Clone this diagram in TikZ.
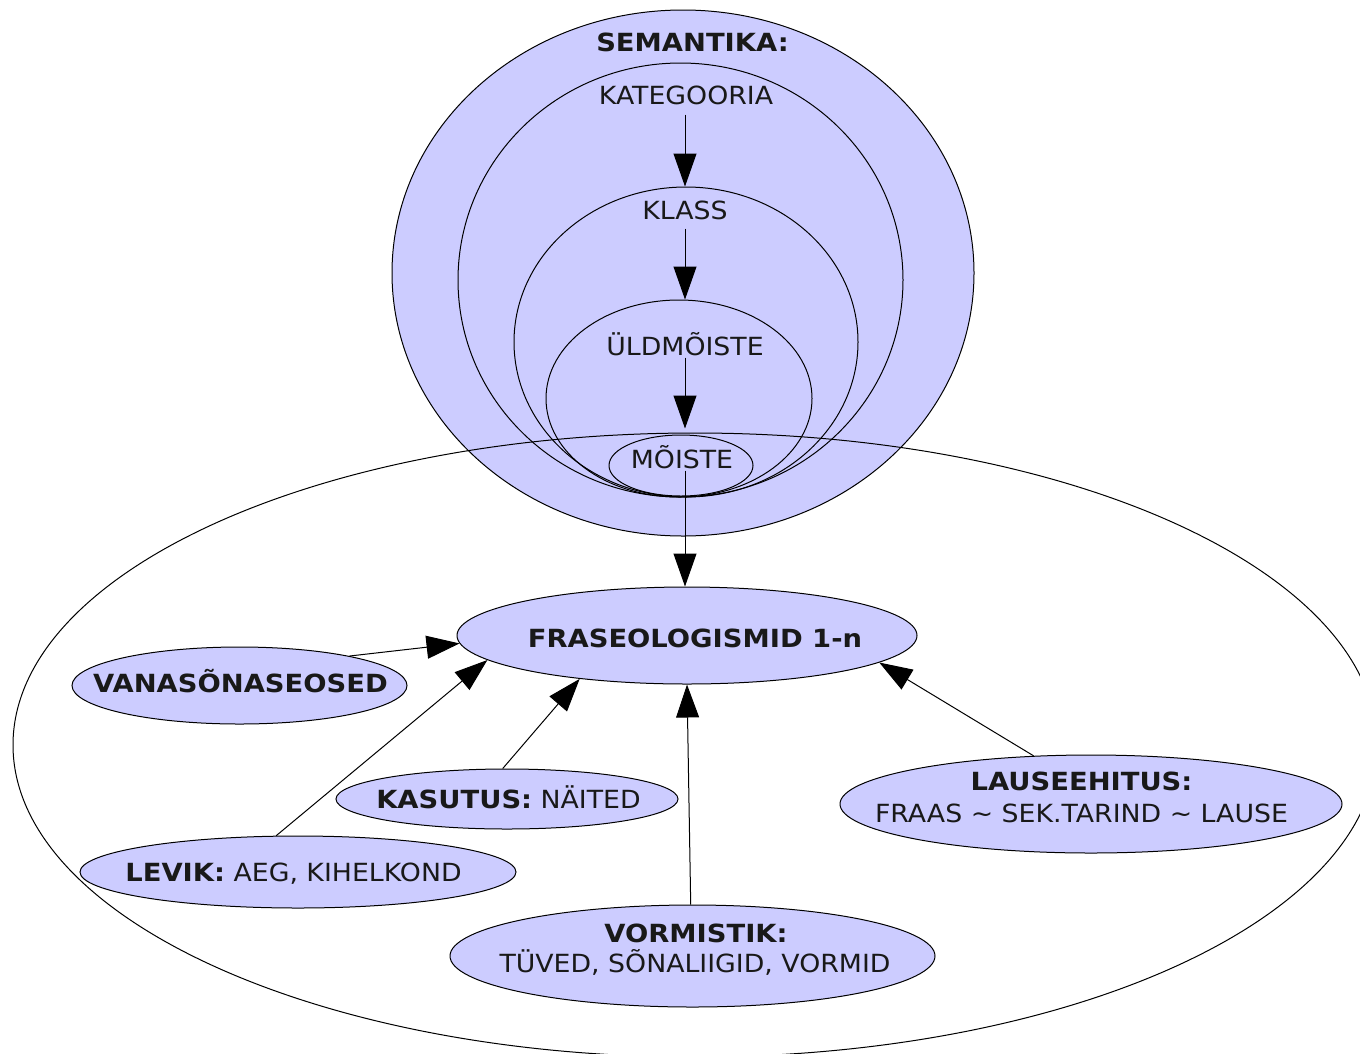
\documentclass[tikz,border=0pt]{standalone}
\usepackage{fontspec}
\setmainfont{DejaVu Sans}[FakeStretch=1.07, BoldFeatures={FakeStretch=1.095}]
\usetikzlibrary{shapes.geometric,arrows.meta}
\definecolor{lav}{RGB}{204,204,255}
\begin{document}
\begin{tikzpicture}[x=1pt,y=-1pt,
  bubble/.style={ellipse, draw=black, line width=1pt, fill=lav, inner sep=0pt},
  ring/.style={ellipse, draw=black, line width=1pt, inner sep=0pt},
  txt/.style={inner sep=0pt, anchor=base, text=black!90, font=\fontsize{25}{30}\selectfont},
  btxt/.style={txt, font=\fontsize{25}{30}\selectfont\bfseries},
  arr/.style={-{Triangle[length=33pt,width=23pt]}, line width=1pt}]
\useasboundingbox (0,0) rectangle (1360,1053);
\fill[white] (0,0) rectangle (1360,1053);
\clip (0,0) rectangle (1360,1053);

% semantics circles
\node[bubble, minimum width=582pt, minimum height=526pt] (sem) at (683,273) {};
\node[ring, minimum width=445pt, minimum height=434pt] (kat) at (680.5,280) {};
\node[ring, minimum width=344pt, minimum height=310pt] (klass) at (686,342) {};
\node[ring, minimum width=266pt, minimum height=197pt] (uld) at (679,398.5) {};
\node[ring, minimum width=144pt, minimum height=61pt] (moiste) at (681,465.5) {};

% outer ellipse
\node[ring, minimum width=1364pt, minimum height=624pt] (outer) at (695,745) {};

% labels in semantics
\node[btxt] (seml) at (692.5,51) {SEMANTIKA:};
\node[txt] (katl) at (686,104) {KATEGOORIA};
\node[txt] (klassl) at (685,219) {KLASS};
\node[txt] (uldl) at (685,355) {ÜLDMÕISTE};
\node[txt] (moistel) at (682,468) {MÕISTE};

% lower bubbles
\node[bubble, minimum width=460pt, minimum height=97pt] (fras) at (687,635.5) {};
\node[bubble, minimum width=335pt, minimum height=77pt] (vana) at (239.5,685.5) {};
\node[bubble, minimum width=342pt, minimum height=60pt] (kasutus) at (507,799) {};
\node[bubble, minimum width=436pt, minimum height=72pt] (levik) at (298,872) {};
\node[bubble, minimum width=485pt, minimum height=102pt] (vorm) at (692.5,956) {};
\node[bubble, minimum width=502pt, minimum height=98pt] (lause) at (1091,804) {};

\node[btxt] (frasl) at (695,647) {FRASEOLOGISMID 1-n};
\node[btxt] (vanal) at (240.5,692) {VANASÕNASEOSED};
\node[txt] (kasutusl) at (508.5,808) {\textbf{KASUTUS:} NÄITED};
\node[txt] (levikl) at (293.5,881) {\textbf{LEVIK:} AEG, KIHELKOND};
\node[btxt] (vorml) at (696,942) {VORMISTIK:};
\node[txt] (vormm) at (695,972) {TÜVED, SÕNALIIGID, VORMID};
\node[btxt] (lausel) at (1081.5,790) {LAUSEEHITUS:};
\node[txt] (lausem) at (1081.5,822) {FRAAS \char"007E{} SEK.TARIND \char"007E{} LAUSE};

% chain arrows
\draw[arr, shorten <=10pt] (klassl.north |- katl.south) -- (klassl.north |- klass.north);
\draw[arr, shorten <=9pt] (klassl.south) -- (klassl.south |- uld.north);
\draw[arr, shorten <=2pt, shorten >=6pt] (uldl.south) -- (uldl.south |- moiste.north);
\draw[arr, shorten <=2pt] (uldl.south |- moistel.south) -- (uldl.south |- fras.north);

% arrows into FRASEOLOGISMID
\draw[arr] (vana.15) -- (fras.182);
\draw[arr] (levik.121) -- (fras.187);
\draw[arr] (kasutus.98) -- (fras.202);
\draw[arr] (vorm.92) -- (fras.270);
\draw[arr] (lause.140) -- (fras.352);
\end{tikzpicture}
\end{document}
